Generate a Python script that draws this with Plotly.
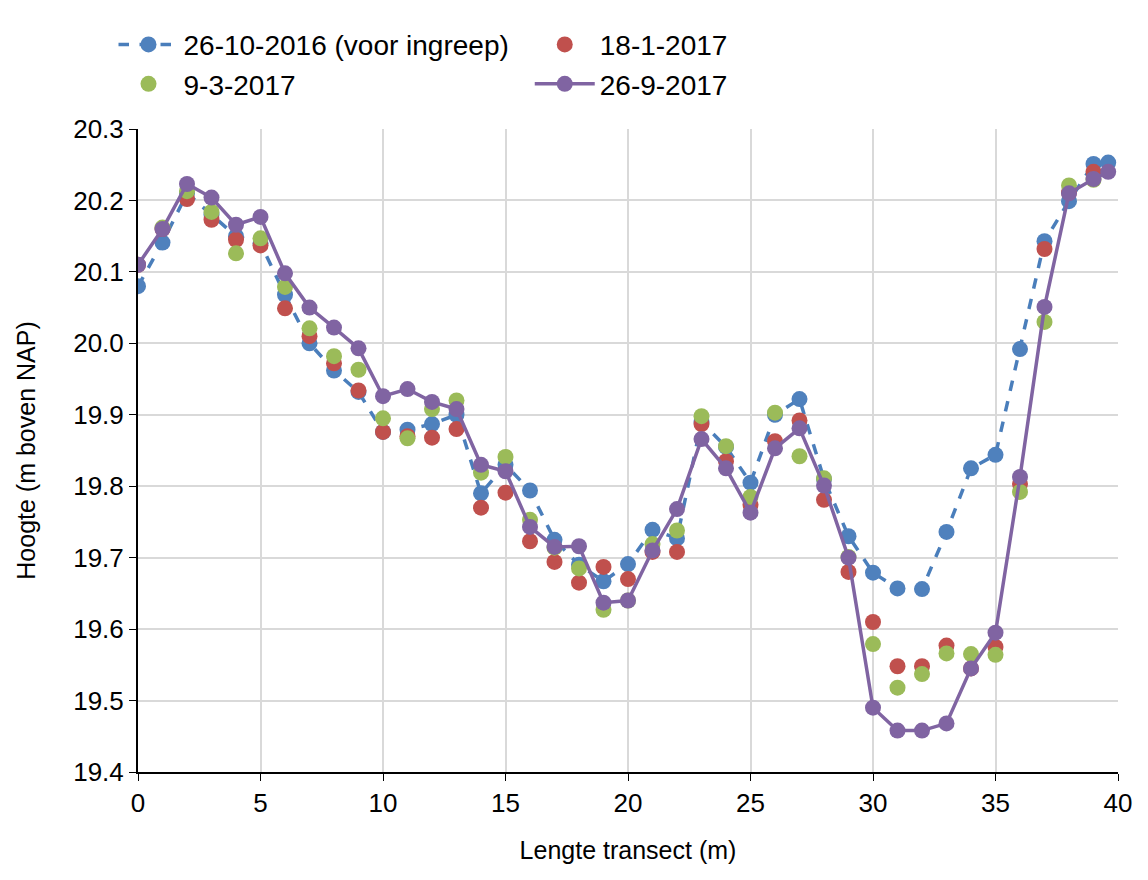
import plotly.graph_objects as go

x_pos = list(range(40)) + [39.6]

hoogte_okt2016 = [20.080, 20.141, 20.210, 20.180, 20.150, 20.140, 20.068, 20.000, 19.962, 19.932,
                  19.876, 19.879, 19.887, 19.900, 19.790, 19.830, 19.794, 19.725, 19.690, 19.667,
                  19.691, 19.739, 19.727, 19.890, 19.855, 19.805, 19.900, 19.922, 19.810, 19.730,
                  19.679, 19.657, 19.656, 19.736, 19.825, 19.844, 19.992, 20.143, 20.199, 20.251,
                  20.253]
hoogte_jan2017 = [20.110, 20.160, 20.202, 20.173, 20.145, 20.137, 20.049, 20.010, 19.972, 19.934,
                  19.876, 19.870, 19.868, 19.880, 19.770, 19.791, 19.723, 19.694, 19.665, 19.687,
                  19.670, 19.708, 19.708, 19.887, 19.835, 19.774, 19.863, 19.892, 19.781, 19.680,
                  19.610, 19.548, 19.548, 19.577, 19.545, 19.575, 19.803, 20.132, 20.211, 20.240,
                  None]
hoogte_mrt2017 = [None, 20.162, 20.213, 20.184, 20.126, 20.147, 20.079, 20.021, 19.982, 19.963,
                  19.895, 19.867, 19.908, 19.920, 19.819, 19.841, 19.753, 19.714, 19.685, 19.627,
                  19.640, 19.719, 19.738, 19.898, 19.856, 19.785, 19.903, 19.842, 19.811, 19.701,
                  19.579, 19.518, 19.537, 19.566, 19.565, 19.564, 19.792, 20.030, 20.221, 20.229,
                  None]
hoogte_sep2017 = [20.110, 20.160, 20.223, 20.204, 20.166, 20.177, 20.098, 20.050, 20.022, 19.993,
                  19.926, 19.936, 19.918, 19.908, 19.830, 19.821, 19.743, 19.715, 19.716, 19.637,
                  19.640, 19.710, 19.768, 19.866, 19.825, 19.763, 19.853, 19.881, 19.801, 19.700,
                  19.490, 19.458, 19.458, 19.468, 19.545, 19.595, 19.813, 20.051, 20.210, 20.230,
                  20.240]

fig = go.Figure()

# Before the intervention: dashed line with markers
fig.add_trace(go.Scatter(x=x_pos, y=hoogte_okt2016, mode="lines+markers",
                         name="26-10-2016 (voor ingreep)",
                         line=dict(color="#4a7ebb", width=3.5, dash="dash"),
                         marker=dict(color="#4f81bd", size=16)))
fig.add_trace(go.Scatter(x=x_pos, y=hoogte_jan2017, mode="markers", name="18-1-2017",
                         marker=dict(color="#c0504d", size=16)))
fig.add_trace(go.Scatter(x=x_pos, y=hoogte_mrt2017, mode="markers", name="9-3-2017",
                         marker=dict(color="#9bbb59", size=16)))
fig.add_trace(go.Scatter(x=x_pos, y=hoogte_sep2017, mode="lines+markers", name="26-9-2017",
                         line=dict(color="#8064a2", width=3.5),
                         marker=dict(color="#8064a2", size=16)))

tick_font = dict(family="Liberation Sans, Arial", size=26, color="black")
title_font = dict(family="Liberation Sans, Arial", size=25, color="black")

fig.update_xaxes(range=[0, 40], dtick=5, showgrid=True, gridcolor="#d9d9d9", gridwidth=2,
                 showline=True, linecolor="black", linewidth=2, ticks="outside",
                 ticklen=7, tickcolor="black", tickfont=tick_font, zeroline=False,
                 automargin=False,
                 title=dict(text="Lengte transect (m)", font=title_font, standoff=24))
fig.update_yaxes(range=[19.4, 20.3], dtick=0.1, tickformat=".1f", showgrid=True,
                 gridcolor="#d9d9d9", gridwidth=2, showline=True, linecolor="black",
                 linewidth=2, ticks="outside", ticklen=7, tickcolor="black",
                 tickfont=tick_font, zeroline=False, automargin=False,
                 title=dict(text="Hoogte (m boven NAP)", font=title_font, standoff=30))

fig.update_layout(
    width=1148, height=880,
    plot_bgcolor="white", paper_bgcolor="white",
    margin=dict(l=130, r=38, t=115, b=116),
    font=dict(family="Liberation Sans, Arial", size=24, color="black"),
    legend=dict(orientation="h", x=-0.025, y=1.17, xanchor="left", yanchor="top",
                entrywidth=0.375, entrywidthmode="fraction",
                font=dict(size=28), itemwidth=60),
    showlegend=True,
)

fig.write_html("out.html")
